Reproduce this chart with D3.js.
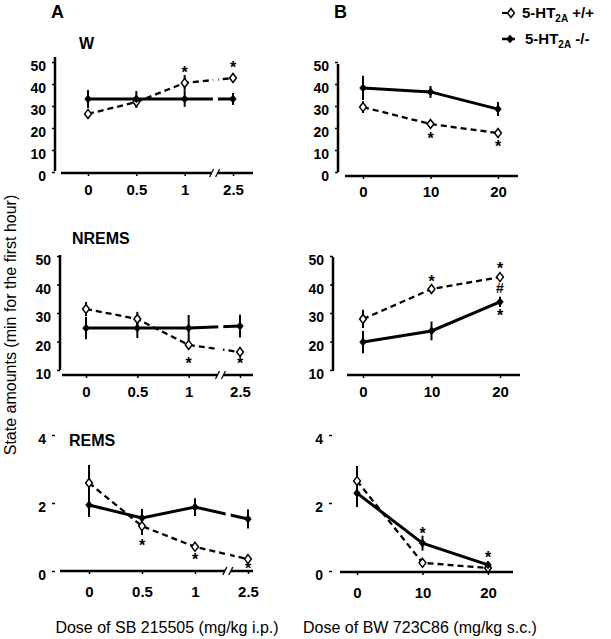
<!DOCTYPE html>
<html>
<head>
<meta charset="utf-8">
<script src="https://cdn.jsdelivr.net/npm/d3@7"></script>
<style>
  body { margin: 0; background: #fff; }
  svg { font-family: "Liberation Sans", Arial, sans-serif; }
</style>
</head>
<body>
<script>
// ---------------- DATA ----------------
const doseA = ["0", "0.5", "1", "2.5"];
const doseB = ["0", "10", "20"];

const ticksW = [0, 10, 20, 30, 40, 50];
const ticksNREMS = [10, 20, 30, 40, 50];
const ticksREMS = [0, 2, 4];

// Wake, SB 215505
const wA_wt = [26.4, 31.8, 40.5, 42.7];
const wA_wtErr = [1.8, 2.7, 3.6, 1.8];
const wA_ko = [33.2, 33.2, 33.2, 33.2];
const wA_koErr = [4.1, 3.6, 3.6, 2.7];
// Wake, BW 723C86
const wB_wt = [29.5, 21.8, 17.7];
const wB_wtErr = [2.7, 1.4, 1.4];
const wB_ko = [38.2, 36.4, 28.6];
const wB_koErr = [5.5, 2.7, 3.2];

// NREMS, SB 215505
const nA_wt = [31.4, 27.9, 18.8, 16.3];
const nA_wtErr = [2.5, 2.5, 0.7, 0.7];
const nA_ko = [24.7, 24.7, 24.7, 25.4];
const nA_koErr = [3.9, 3.5, 4.6, 4.0];
// NREMS, BW 723C86
const nB_wt = [27.9, 38.4, 42.6];
const nB_wtErr = [3.2, 1.0, 1.0];
const nB_ko = [19.8, 23.7, 33.9];
const nB_koErr = [3.9, 3.3, 1.8];

// REMS, SB 215505
const rA_wt = [2.59, 1.32, 0.71, 0.35];
const rA_wtErr = [0.53, 0.26, 0.05, 0.05];
const rA_ko = [1.94, 1.56, 1.88, 1.53];
const rA_koErr = [0.35, 0.26, 0.26, 0.28];
// REMS, BW 723C86
const rB_wt = [2.65, 0.24, 0.09];
const rB_wtErr = [0.44, 0.05, 0.05];
const rB_ko = [2.29, 0.82, 0.18];
const rB_koErr = [0.41, 0.22, 0.05];

// significance marks: [dose, value, symbol]
const marksWA = [["1", 46.8, "*"], ["2.5", 49.1, "*"]];
const marksWB = [["10", 16.8, "*"], ["20", 13.2, "*"]];
const marksNA = [["1", 13.5, "*"], ["2.5", 13.5, "*"]];
const marksNB = [["10", 42.3, "*"], ["20", 46.8, "*"], ["20", 38.8, "#"], ["20", 30.4, "*"]];
const marksRA = [["0.5", 0.85, "*"], ["1", 0.44, "*"], ["2.5", 0.18, "*"]];
const marksRB = [["10", 1.21, "*"], ["20", 0.5, "*"]];

const legendLabels = ["+/+", "-/-"];
const yTitle = "State amounts (min for the first hour)";
const xTitleA = "Dose of SB 215505 (mg/kg i.p.)";
const xTitleB = "Dose of BW 723C86 (mg/kg s.c.)";

// ---------------- LAYOUT ----------------
const svg = d3.select("body").append("svg").attr("width", 611).attr("height", 639);

const panels = [
  {doses: doseA, wt: wA_wt, wtErr: wA_wtErr, ko: wA_ko, koErr: wA_koErr, marks: marksWA,
   yDomain: [0, 50], ticks: ticksW, yTop: 62, yBottom: 172, yAxisX: 55, yLine: [57, 171],
   x0: 88, x1: 233, axisY: 173, axisX: [61, 253], broken: true, labPad: 8.5, yAxisLine: true,
   title: "W", titleX: 79, titleY: 49},
  {doses: doseB, wt: wB_wt, wtErr: wB_wtErr, ko: wB_ko, koErr: wB_koErr, marks: marksWB,
   yDomain: [0, 50], ticks: ticksW, yTop: 62, yBottom: 172, yAxisX: 338, yLine: [64, 172],
   x0: 363, x1: 498, axisY: 176, axisX: [345, 518], broken: false, labPad: 7.5, yAxisLine: true},
  {doses: doseA, wt: nA_wt, wtErr: nA_wtErr, ko: nA_ko, koErr: nA_koErr, marks: marksNA,
   yDomain: [10, 50], ticks: ticksNREMS, yTop: 256, yBottom: 370, yAxisX: 60, yLine: [255, 370],
   x0: 86, x1: 240, axisY: 375, axisX: [62, 253], broken: true, labPad: 8.5, yAxisLine: true,
   title: "NREMS", titleX: 72, titleY: 244},
  {doses: doseB, wt: nB_wt, wtErr: nB_wtErr, ko: nB_ko, koErr: nB_koErr, marks: marksNB,
   yDomain: [10, 50], ticks: ticksNREMS, yTop: 256, yBottom: 370, yAxisX: 333, yLine: [257, 371],
   x0: 363, x1: 500, axisY: 375, axisX: [347, 520], broken: false, labPad: 8.5, yAxisLine: true},
  {doses: doseA, wt: rA_wt, wtErr: rA_wtErr, ko: rA_ko, koErr: rA_koErr, marks: marksRA,
   yDomain: [0, 4], ticks: ticksREMS, yTop: 435, yBottom: 571, yAxisX: 55, yLine: [432, 571],
   x0: 89, x1: 248, axisY: 571, axisX: [60, 253], broken: true, labPad: 12, yAxisLine: false,
   title: "REMS", titleX: 69, titleY: 446},
  {doses: doseB, wt: rB_wt, wtErr: rB_wtErr, ko: rB_ko, koErr: rB_koErr, marks: marksRB,
   yDomain: [0, 4], ticks: ticksREMS, yTop: 435, yBottom: 571, yAxisX: 332, yLine: [432, 572],
   x0: 357, x1: 488, axisY: 572, axisX: [340, 513], broken: false, labPad: 12, yAxisLine: false}
];

function diamond(g, cx, cy, open) {
  const h = open ? 4.5 : 3.8, w = open ? 3.4 : 3.2;
  g.append("path")
    .attr("d", `M${cx},${cy - h}L${cx + w},${cy}L${cx},${cy + h}L${cx - w},${cy}Z`)
    .attr("fill", open ? "#fff" : "#000")
    .attr("stroke", "#000")
    .attr("stroke-width", open ? 1.5 : 1);
}

function drawPanel(p) {
  const x = d3.scalePoint().domain(p.doses).range([p.x0, p.x1]);
  const y = d3.scaleLinear().domain(p.yDomain).range([p.yBottom, p.yTop]);
  const g = svg.append("g");
  const line = d3.line().x((d, i) => x(p.doses[i])).y(d => y(d));

  g.append("path").datum(p.wt).attr("d", line).attr("fill", "none")
    .attr("stroke", "#000").attr("stroke-width", 2.3).attr("stroke-dasharray", "6,4");
  g.append("path").datum(p.ko).attr("d", line).attr("fill", "none")
    .attr("stroke", "#000").attr("stroke-width", 3);

  // error bars
  [[p.wt, p.wtErr], [p.ko, p.koErr]].forEach(([vals, errs]) => {
    g.selectAll(null).data(vals).enter().append("line")
      .attr("x1", (d, i) => x(p.doses[i])).attr("x2", (d, i) => x(p.doses[i]))
      .attr("y1", (d, i) => y(d - errs[i])).attr("y2", (d, i) => y(d + errs[i]))
      .attr("stroke", "#000").attr("stroke-width", 2);
  });

  // axis break
  if (p.broken) {
    const bx = x("1") + 0.62 * (x("2.5") - x("1"));
    g.append("path")
      .attr("d", `M${bx - 3},${p.axisY + 5}L${bx + 2},${p.axisY + 5}L${bx + 4},${p.yTop - 8}L${bx - 1},${p.yTop - 8}Z`)
      .attr("fill", "#fff");
  }

  p.wt.forEach((d, i) => diamond(g, x(p.doses[i]), y(d), true));
  p.ko.forEach((d, i) => diamond(g, x(p.doses[i]), y(d), false));

  // x axis
  const xa = g.append("g").attr("transform", `translate(0,${p.axisY})`)
    .call(d3.axisBottom(x).tickSize(3).tickPadding(p.labPad));
  xa.select(".domain").remove();
  xa.selectAll(".tick line").attr("stroke", "#000").attr("stroke-width", 1.5);
  xa.selectAll(".tick text").attr("fill", "#000").style("font-size", "15px").style("font-weight", "bold");
  if (p.broken) {
    const bx = x("1") + 0.62 * (x("2.5") - x("1"));
    xa.append("line").attr("x1", p.axisX[0]).attr("x2", bx - 3).attr("y1", 0).attr("y2", 0)
      .attr("stroke", "#000").attr("stroke-width", 2.5);
    xa.append("line").attr("x1", bx + 3).attr("x2", p.axisX[1]).attr("y1", 0).attr("y2", 0)
      .attr("stroke", "#000").attr("stroke-width", 2.5);
    [-3, 3].forEach(o => xa.append("line")
      .attr("x1", bx + o - 2).attr("x2", bx + o + 2).attr("y1", 4).attr("y2", -4)
      .attr("stroke", "#000").attr("stroke-width", 1.3));
  } else {
    xa.append("line").attr("x1", p.axisX[0]).attr("x2", p.axisX[1]).attr("y1", 0).attr("y2", 0)
      .attr("stroke", "#000").attr("stroke-width", 2.5);
  }

  // y axis
  const ya = g.append("g").attr("transform", `translate(${p.yAxisX},0)`)
    .call(d3.axisLeft(y).tickValues(p.ticks).tickSize(3).tickPadding(6).tickFormat(d3.format("d")));
  ya.select(".domain").remove();
  ya.selectAll(".tick line").attr("stroke", "#000").attr("stroke-width", 1.5);
  ya.selectAll(".tick text").attr("fill", "#000").attr("dy", "0.62em")
    .style("font-size", "14px").style("font-weight", "bold");
  if (p.yAxisLine) {
    ya.append("line").attr("x1", 0).attr("x2", 0).attr("y1", p.yLine[0]).attr("y2", p.yLine[1])
      .attr("stroke", "#000").attr("stroke-width", 2.5);
  }

  // significance marks
  g.selectAll(null).data(p.marks).enter().append("text")
    .attr("x", d => x(d[0])).attr("y", d => y(d[1]) + (d[2] === "*" ? 9 : 5))
    .attr("text-anchor", "middle")
    .style("font-size", d => d[2] === "*" ? "16px" : "14px").style("font-weight", "bold")
    .text(d => d[2]);

  if (p.title) {
    svg.append("text").attr("x", p.titleX).attr("y", p.titleY)
      .style("font-size", "16px").style("font-weight", "bold").text(p.title);
  }
}

panels.forEach(drawPanel);

// panel letters
svg.append("text").attr("x", 51).attr("y", 18).style("font-size", "18px").style("font-weight", "bold").text("A");
svg.append("text").attr("x", 334).attr("y", 18).style("font-size", "18px").style("font-weight", "bold").text("B");

// legend
legendLabels.forEach((lab, i) => {
  const ly = i === 0 ? 13 : 39;
  const lg = svg.append("g");
  if (i === 0) {
    lg.append("line").attr("x1", 502).attr("x2", 507).attr("y1", ly).attr("y2", ly)
      .attr("stroke", "#000").attr("stroke-width", 2);
    diamond(lg, 511, ly, true);
  } else {
    lg.append("line").attr("x1", 502).attr("x2", 515).attr("y1", ly).attr("y2", ly)
      .attr("stroke", "#000").attr("stroke-width", 2.5);
    diamond(lg, 510, ly, false);
  }
  const t = lg.append("text").attr("x", i === 0 ? 522 : 525).attr("y", ly + 5)
    .style("font-size", "15px").style("font-weight", "bold");
  t.append("tspan").text("5-HT");
  t.append("tspan").attr("dy", 4).style("font-size", "10px").text("2A");
  t.append("tspan").attr("dy", -4).text(" " + lab);
});

// axis titles
svg.append("text").attr("transform", "translate(16,325) rotate(-90)")
  .attr("text-anchor", "middle").style("font-size", "16px").text(yTitle);
svg.append("text").attr("x", 167).attr("y", 633).attr("text-anchor", "middle")
  .style("font-size", "16px").text(xTitleA);
svg.append("text").attr("x", 420).attr("y", 633).attr("text-anchor", "middle")
  .style("font-size", "16px").text(xTitleB);
</script>
</body>
</html>
